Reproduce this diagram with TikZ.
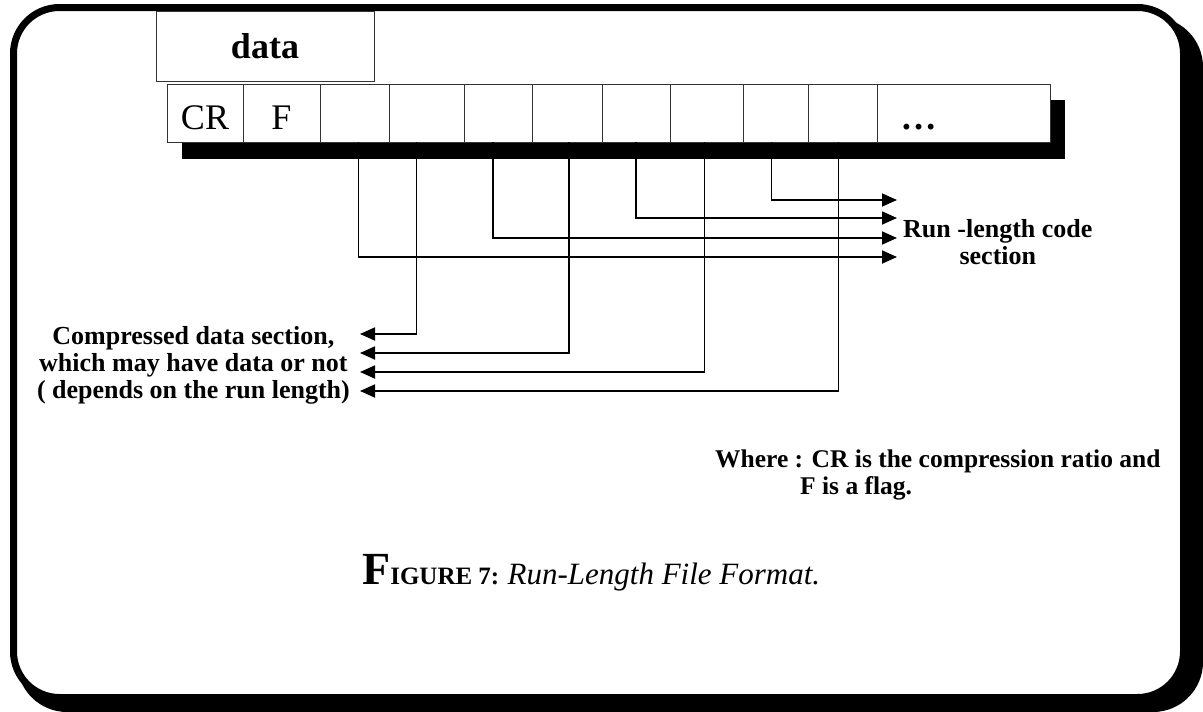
\documentclass[tikz,border=0pt]{standalone}
\usepackage{fontspec}
\setmainfont{Liberation Serif}
\usetikzlibrary{arrows.meta, positioning}

\begin{document}
\begin{tikzpicture}[
    x=1pt, y=-1pt,
    cell/.style={
        draw=black!80,
        line width=0.9pt,
        rectangle,
        minimum height=58pt,
        inner sep=0pt,
        outer sep=0pt,
        fill=white,
        text height=36pt,
        text depth=4pt,
        font=\fontsize{36}{36}\selectfont
    },
    note/.style={
        align=center,
        inner sep=0pt,
        font=\fontsize{26}{27}\selectfont\bfseries
    },
    arrow/.style={
        -{Triangle[length=15pt, width=13pt]},
        line width=1.8pt
    }
]
\useasboundingbox (0,0) rectangle (1203,712);

% Frame
\fill[black, rounded corners=50pt] (17,17) rectangle (1203,712);
\draw[line width=7pt, fill=white, rounded corners=46pt] (13.5,7.5) rectangle (1183.5,697.5);

% Header
\node[cell, minimum width=218pt, minimum height=70pt, text height=25pt, text depth=0pt] (data) at (265,46)
    {\bfseries data};

% Record
\fill (182,100) rectangle (1065,159);
\node[cell, minimum width=76pt, anchor=north west] (cr) at (167,84) {CR};
\node[cell, minimum width=77pt, right=0pt of cr] (flag) {F};
\node[cell, minimum width=69pt, right=0pt of flag] (c1) {};
\node[cell, minimum width=75pt, right=0pt of c1] (c2) {};
\node[cell, minimum width=68pt, right=0pt of c2] (c3) {};
\node[cell, minimum width=70pt, right=0pt of c3] (c4) {};
\node[cell, minimum width=68pt, right=0pt of c4] (c5) {};
\node[cell, minimum width=73pt, right=0pt of c5] (c6) {};
\node[cell, minimum width=65pt, right=0pt of c6] (c7) {};
\node[cell, minimum width=69pt, right=0pt of c7] (c8) {};
\node[cell, minimum width=173pt, right=0pt of c8] (more) {\bfseries …\hspace*{90pt}};

% Labels
\node[note, anchor=west] (runlen) at (903,242) {Run -length code\\section};
\node[note, anchor=east] (compr) at (350,365)
    {Compressed data section,\\which may have data or not\\( depends on the run length)};
\node[note, align=left, anchor=north west, font=\fontsize{25.5}{27}\selectfont\bfseries] (where) at (715,450)
    {Where : CR is the compression ratio and\\\hspace{85pt}F is a flag.};

% Arrow ends
\coordinate (rl1) at (897,200);
\coordinate (rl2) at (897,218);
\coordinate (rl3) at (897,238);
\coordinate (rl4) at (897,257);
\coordinate (cd1) at (360,334);
\coordinate (cd2) at (360,353);
\coordinate (cd3) at (360,372);
\coordinate (cd4) at (360,391);

% Run-length code
\draw[arrow] ([xshift=-4pt]c7.south) |- (rl1);
\draw[arrow] (c5.south) |- (rl2);
\draw[arrow] ([xshift=-5pt]c3.south) |- (rl3);
\draw[arrow] ([xshift=4pt]c1.south) |- (rl4);

% Compressed data
\draw[arrow] ([xshift=-10pt]c2.south) |- (cd1);
\draw[arrow] ([xshift=2pt]c4.south) |- (cd2);
\draw[arrow] ([xshift=-2pt]c6.south) |- (cd3);
\draw[arrow] ([xshift=-4pt]c8.south) |- (cd4);

% Caption
\node[anchor=base west, inner sep=0pt] (caption) at (362,584)
    {\bfseries\fontsize{46}{46}\selectfont F%
     \fontsize{25}{25}\selectfont IGURE 7:
     \fontsize{31}{31}\selectfont\mdseries\itshape Run-Length File Format.};

\end{tikzpicture}
\end{document}
